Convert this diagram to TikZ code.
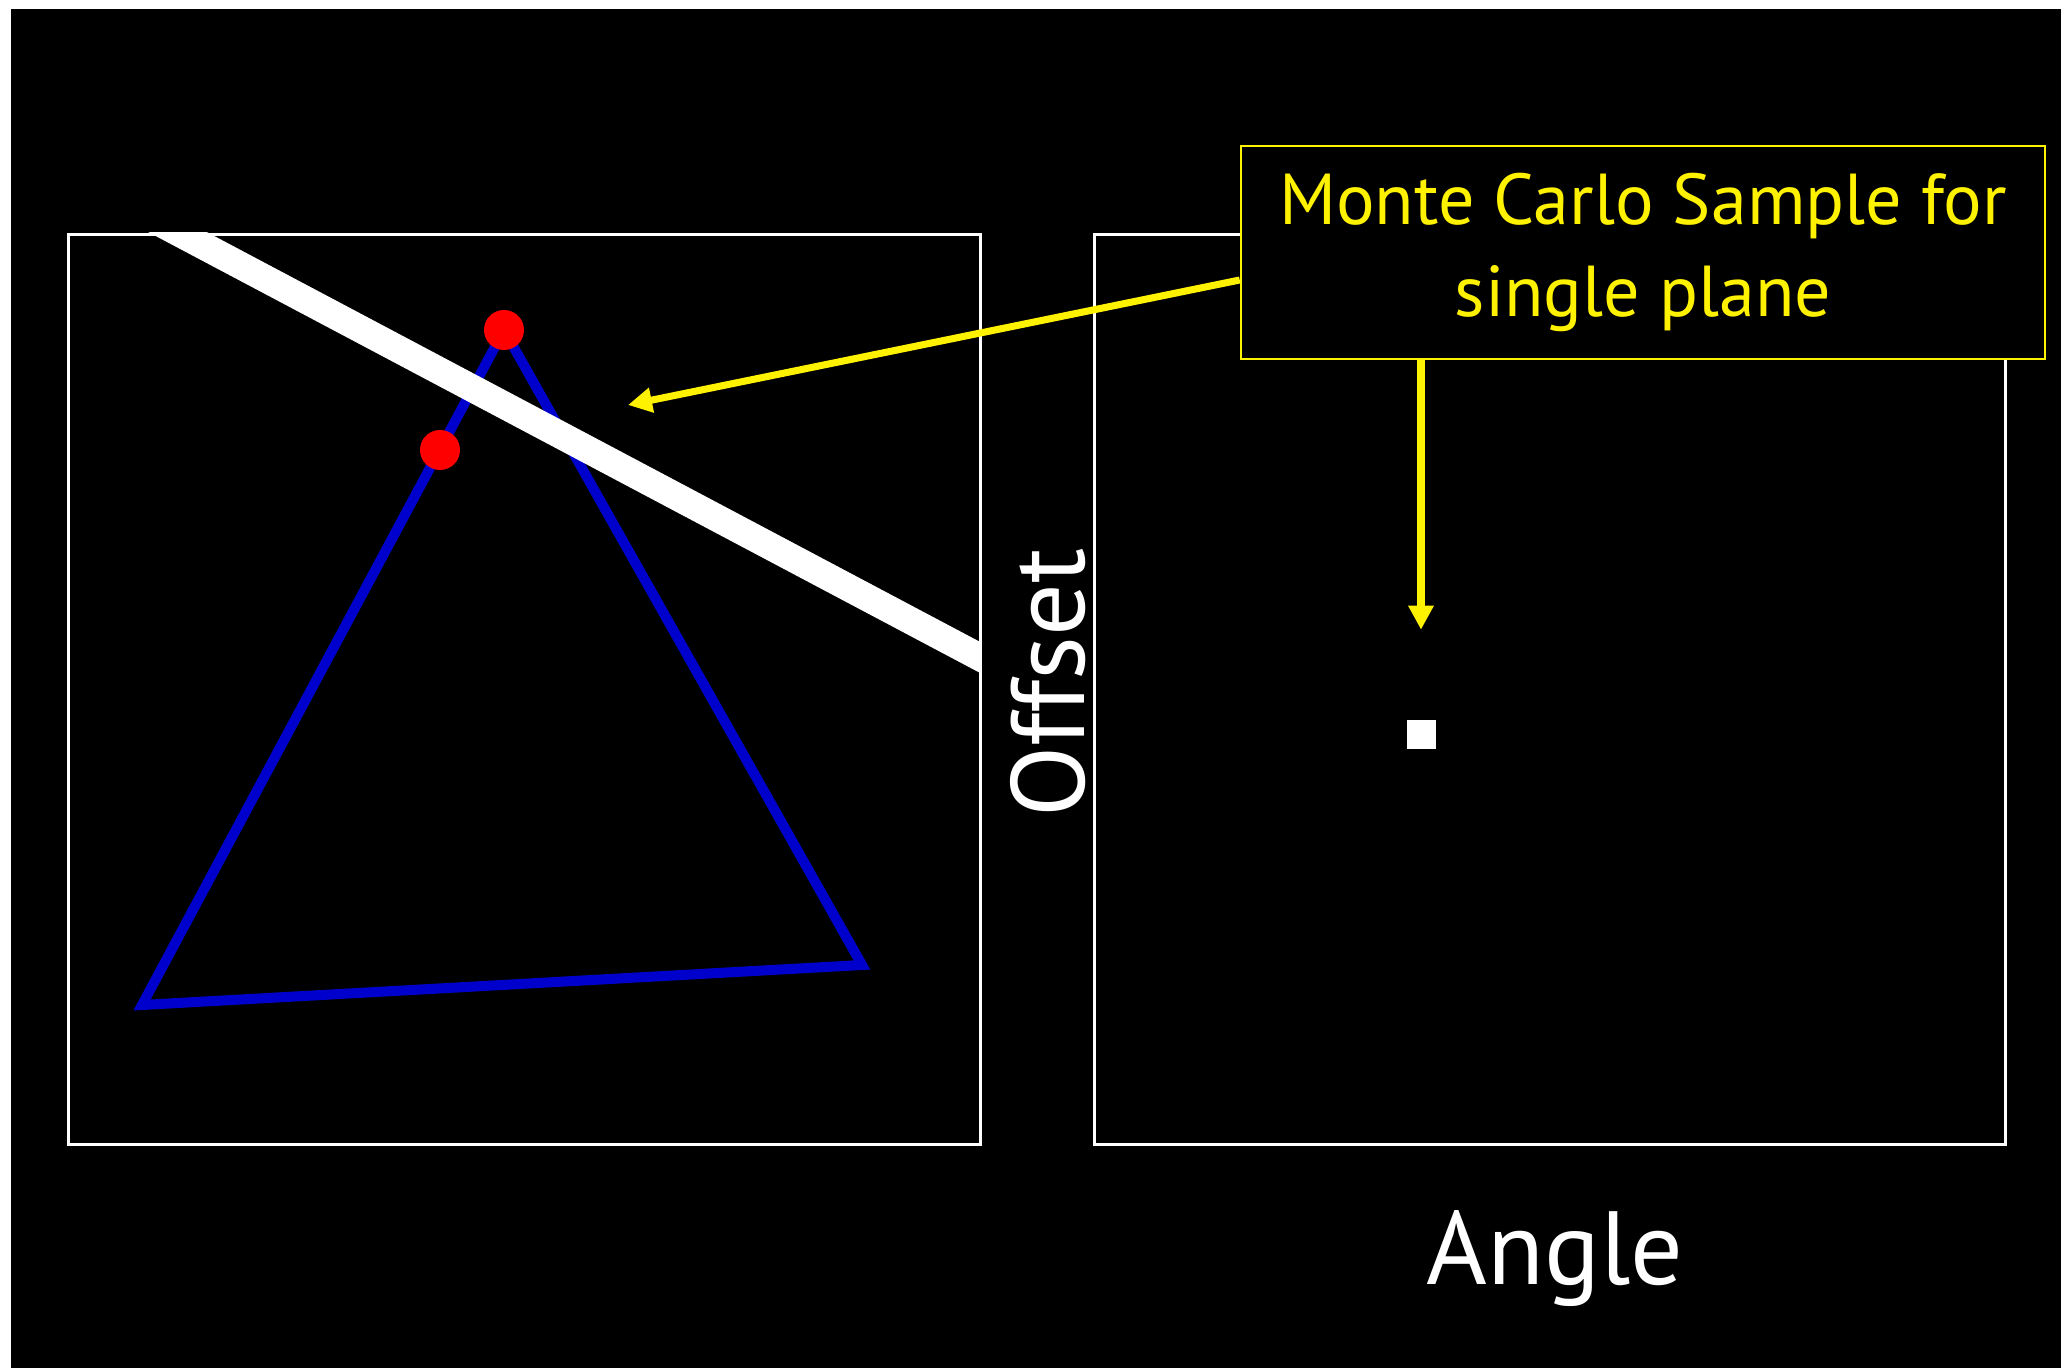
\documentclass[tikz,border=0pt]{standalone}
\usepackage{fontspec}
\setmainfont{PT Sans}
\usetikzlibrary{arrows.meta,positioning}
\definecolor{triblue}{RGB}{0,0,205}

\begin{document}
\begin{tikzpicture}[
    x=0.01cm, y=-0.01cm,
    panel/.style={rectangle, draw=white, line width=0.85pt, minimum width=9.11cm, minimum height=9.10cm, inner sep=0pt},
    edge/.style={draw=triblue, line width=2.85pt},
    band/.style={draw=white, line width=7.8pt},
    hit/.style={circle, fill=red, minimum size=0.40cm, inner sep=0pt},
    sample/.style={rectangle, fill=white, minimum size=0.29cm, inner sep=0pt},
    callout/.style={rectangle, draw=yellow, fill=black, line width=0.6pt, text=yellow, align=center, minimum width=8.04cm, minimum height=2.13cm, font=\fontsize{20.5}{26}\selectfont},
    pointer/.style={draw=yellow, line width=2pt, -{Triangle[length=0.24cm, width=0.24cm]}},
    axislabel/.style={text=white, font=\fontsize{29.6}{36}\selectfont, inner sep=0pt}
]
    \useasboundingbox (0,0) rectangle (2072,1368);
    \fill[black] (11,9) rectangle (2061,1368);

    % the two panels
    \node[panel] (spatial) at (524.5,689.5) {};
    \node[panel] (hough) at (1550,689.5) {};

    % triangle and the sampled plane
    \coordinate (apex) at (504,330);
    \coordinate (right) at (862,965);
    \coordinate (left) at (142,1005);
    \draw[edge] (apex) -- (right) -- (left) -- cycle;
    \begin{scope}
        \clip (spatial.north west) rectangle (spatial.south east);
        \draw[band] (100,191) -- (1000,668);
    \end{scope}
    \node[hit] (hitA) at (apex) {};
    \node[hit] (hitB) at (440,450) {};

    % point in parameter space
    \node[sample] (sample) at (1421,735) {};

    % axis labels
    \node[axislabel, rotate=90] (offset) at (1048,683) {Offset};
    \node[axislabel, anchor=base] (angle) at (1555,1285) {Angle};

    % callout
    \node[callout] (mcs) at (1643,252.5) {Monte Carlo Sample for\\single plane};
    \coordinate (bandtip) at (628,405);
    \draw[pointer] ([yshift=-0.275cm]mcs.west) -- (bandtip);
    \draw[pointer, shorten >=0.9cm] (mcs.south -| sample) -- (sample.north);
\end{tikzpicture}
\end{document}
